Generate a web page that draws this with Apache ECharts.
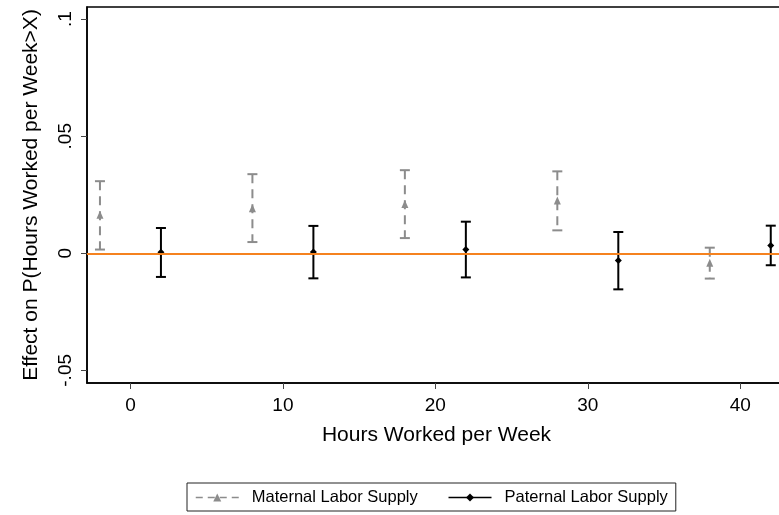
<!DOCTYPE html>
<html>
<head>
<meta charset="utf-8">
<script src="https://cdn.jsdelivr.net/npm/echarts@6/dist/echarts.min.js"></script>
<style>
html,body{margin:0;padding:0;background:#fff;}
#chart{width:779px;height:515px;}
</style>
</head>
<body>
<div id="chart"></div>
<script>
// ---- data ----
const xTicks = [0, 10, 20, 30, 40];
const yTicks = [-0.05, 0, 0.05, 0.1];
const yTickLabels = ['-.05', '0', '.05', '.1'];

const seriesNames = ['Maternal Labor Supply', 'Paternal Labor Supply'];

const matX = [-2, 8, 18, 28, 38];
const matEst = [0.0165, 0.0192, 0.0211, 0.0225, -0.0040];
const matLo = [0.0016, 0.0048, 0.0065, 0.0098, -0.0108];
const matHi = [0.0308, 0.0338, 0.0355, 0.0350, 0.0024];

const patX = [2, 12, 22, 32, 42];
const patEst = [0.0004, 0.0006, 0.0016, -0.0031, 0.0033];
const patLo = [-0.0101, -0.0107, -0.0103, -0.0154, -0.0051];
const patHi = [0.0108, 0.0117, 0.0135, 0.0091, 0.0118];

const refLineValue = 0;

// ---- styles ----
const FONT = 'Liberation Sans, Arial, sans-serif';
const GRAY = '#8c8c8c';
const BLACK = '#000000';
const ORANGE = '#f5821f';

function errRenderer(color, dash) {
  return function (params, api) {
    const x = api.value(0), lo = api.value(1), hi = api.value(2);
    const pHi = api.coord([x, hi]);
    const pLo = api.coord([x, lo]);
    const hw = 5;
    const base = { stroke: color, lineWidth: 2, fill: null };
    return {
      type: 'group',
      children: [
        { type: 'line', shape: { x1: pHi[0], y1: pHi[1], x2: pLo[0], y2: pLo[1] },
          style: Object.assign({}, base, dash ? { lineDash: dash } : {}) },
        { type: 'line', shape: { x1: pHi[0] - hw, y1: pHi[1], x2: pHi[0] + hw, y2: pHi[1] }, style: base },
        { type: 'line', shape: { x1: pLo[0] - hw, y1: pLo[1], x2: pLo[0] + hw, y2: pLo[1] }, style: base }
      ]
    };
  };
}

const chart = echarts.init(document.getElementById('chart'), null, { renderer: 'canvas' });

const option = {
  animation: false,
  backgroundColor: '#ffffff',
  grid: {
    left: 87, right: -7, top: 7, bottom: 132,
    containLabel: false, outerBoundsMode: 'none',
    show: true, borderColor: '#000', borderWidth: 1.5, backgroundColor: '#fff'
  },
  xAxis: {
    type: 'value', min: -2.85, max: 43,
    name: 'Hours Worked per Week', nameLocation: 'middle', nameGap: 42,
    nameTextStyle: { fontFamily: FONT, fontSize: 21, color: '#000' },
    axisLine: { show: true, onZero: false, lineStyle: { color: '#000', width: 1.5 } },
    axisTick: { show: true, length: 6, customValues: xTicks, lineStyle: { color: '#444', width: 1 } },
    axisLabel: { customValues: xTicks, margin: 13, fontFamily: FONT, fontSize: 19, color: '#000' },
    splitLine: { show: false }
  },
  yAxis: {
    type: 'value', min: -0.0554, max: 0.1052,
    name: 'Effect on P(Hours Worked per Week>X)', nameLocation: 'middle', nameGap: 45, nameRotate: 90,
    nameTextStyle: { fontFamily: FONT, fontSize: 21, color: '#000' },
    axisLine: { show: true, onZero: false, lineStyle: { color: '#000', width: 1.5 } },
    axisTick: { show: true, length: 6, customValues: yTicks, lineStyle: { color: '#444', width: 1 } },
    axisLabel: {
      customValues: yTicks, rotate: 90, margin: 12, fontFamily: FONT, fontSize: 19, color: '#000',
      formatter: function (v) {
        const i = yTicks.findIndex(t => Math.abs(t - v) < 1e-9);
        return i >= 0 ? yTickLabels[i] : '';
      }
    },
    splitLine: { show: false }
  },
  legend: {
    left: 187, bottom: 4,
    orient: 'horizontal',
    padding: [6, 8, 5, 8],
    borderColor: '#222', borderWidth: 1,
    itemWidth: 43, itemHeight: 10, itemGap: 30,
    textStyle: { fontFamily: FONT, fontSize: 16.5, color: '#000', padding: [0, 0, 0, 8] },
    data: [
      { name: seriesNames[0], lineStyle: { opacity: 1, width: 1.5, color: GRAY, type: [7, 5] }, itemStyle: { color: GRAY } },
      { name: seriesNames[1], lineStyle: { opacity: 1, width: 1.5, color: BLACK, type: 'solid' }, itemStyle: { color: BLACK } }
    ]
  },
  series: [
    {
      name: 'ref', type: 'line', data: [], z: 1, silent: true,
      markLine: {
        silent: true, symbol: ['none', 'none'], label: { show: false },
        lineStyle: { color: ORANGE, width: 2, type: 'solid' },
        data: [{ yAxis: refLineValue }]
      }
    },
    {
      name: seriesNames[0] + ' CI', type: 'custom', z: 3,
      renderItem: errRenderer(GRAY, [9, 6]),
      encode: { x: 0, y: [1, 2] },
      data: matX.map((x, i) => [x, matLo[i], matHi[i]])
    },
    {
      name: seriesNames[1] + ' CI', type: 'custom', z: 3,
      renderItem: errRenderer(BLACK, null),
      encode: { x: 0, y: [1, 2] },
      data: patX.map((x, i) => [x, patLo[i], patHi[i]])
    },
    {
      name: seriesNames[0], type: 'line', z: 4,
      symbol: 'triangle', symbolSize: [7, 8], showSymbol: true,
      itemStyle: { color: GRAY },
      lineStyle: { width: 0, opacity: 0, color: GRAY, type: 'dashed' },
      data: matX.map((x, i) => [x, matEst[i]])
    },
    {
      name: seriesNames[1], type: 'line', z: 4,
      symbol: 'diamond', symbolSize: 7, showSymbol: true,
      itemStyle: { color: BLACK },
      lineStyle: { width: 0, opacity: 0, color: BLACK },
      data: patX.map((x, i) => [x, patEst[i]])
    }
  ]
};
chart.setOption(option);
</script>
</body>
</html>
